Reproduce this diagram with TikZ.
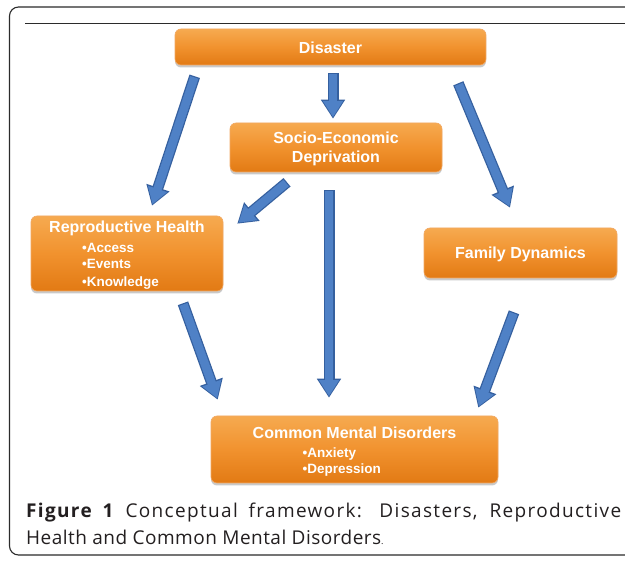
\documentclass[tikz,border=0pt]{standalone}
\usepackage{fontspec}
\setmainfont{Open Sans}
\newfontfamily\capLS[LetterSpace=7]{Open Sans}
\newfontfamily\capLSb[LetterSpace=2.5]{Open Sans}
\newfontfamily\boxfont{Liberation Sans}
\usetikzlibrary{arrows.meta,calc,shadows}
\definecolor{frameC}{HTML}{2B2B2B}
\definecolor{orTop}{HTML}{F6AA50}
\definecolor{orMid}{HTML}{F1922E}
\definecolor{orBot}{HTML}{E27A14}
\definecolor{orEdge}{HTML}{F2A862}
\definecolor{arOut}{HTML}{35609F}
\definecolor{arIn}{HTML}{4F81C6}
\definecolor{capC}{HTML}{231F20}
\tikzset{
  obox/.style={rectangle, rounded corners=6pt, top color=orTop, bottom color=orBot,
    middle color=orMid, draw=orEdge, line width=0.6pt,
    drop shadow={opacity=0.35, shadow xshift=0pt, shadow yshift=-2.5pt, fill=black!60},
    text=white, font=\boxfont\bfseries\fontsize{16}{18}\selectfont, inner sep=0pt, align=left},
  barrow/.style={line width=11pt, draw=arOut, -{Triangle[width=23pt,length=19pt]}},
  barrowin/.style={line width=8.5pt, draw=arIn, -{Triangle[width=19pt,length=16pt]}, shorten >=1.6pt, shorten <=1.2pt},
}
\newcommand{\blockarrow}[2]{%
  \draw[barrow] #1 -- #2;
  \draw[barrowin] #1 -- #2;}
\newcommand{\bul}[1]{{\fontsize{13.5}{17}\selectfont\textbullet#1}}
\begin{document}
\begin{tikzpicture}[x=1pt,y=-1pt]
\useasboundingbox (0,0) rectangle (625,564);
\fill[white] (0,0) rectangle (625,564);
% frame
\draw[frameC, line width=1.1pt, rounded corners=9pt] (640,7) -- (9.5,7) -- (9.5,555) -- (640,555);
\draw[frameC, line width=0.9pt] (25,23) -- (625,23);
% boxes
\node[obox, minimum width=311pt, minimum height=36pt] (dis) at (330.5,47) {\rule{0pt}{13pt}Disaster};
\node[obox, minimum width=212pt, minimum height=49pt, align=center] (soc) at (336,147.5) {\rule{0pt}{15pt}Socio-Economic\\[1pt]Deprivation};
\node[obox, minimum width=192pt, minimum height=75pt] (rh) at (127,253.5)
  {\rule{0pt}{15pt}Reproductive Health\\[2pt]\hspace*{33pt}\bul{Access}\\[-1.5pt]\hspace*{33pt}\bul{Events}\\[0pt]\hspace*{33pt}\bul{Knowledge}};
\node[obox, minimum width=193pt, minimum height=50pt] (fd) at (520.5,253) {\rule{0pt}{14pt}Family Dynamics};
\node[obox, minimum width=287pt, minimum height=67pt] (cmd) at (354.5,449.5)
  {\rule{0pt}{16pt}Common Mental Disorders\\[1pt]\hspace*{50pt}\bul{Anxiety}\\[-1.5pt]\hspace*{50pt}\bul{Depression}};
% arrows
\blockarrow{($(dis.south)+(2.5,8)$)}{($(soc.north)+(-3,-4)$)}
\blockarrow{($(dis.south west)+(20,11)$)}{($(rh.north)+(25,-10)$)}
\blockarrow{($(dis.south east)+(-28,18)$)}{($(fd.north)+(-10.5,-20)$)}
\blockarrow{($(soc.south)+(-49,10)$)}{($(rh.north east)+(14,8)$)}
\blockarrow{($(soc.south)+(-7,18)$)}{($(cmd.north)+(-25.5,-18)$)}
\blockarrow{($(rh.south)+(56,12)$)}{($(cmd.north west)+(7,-16)$)}
\blockarrow{($(fd.south)+(-6.5,34)$)}{($(cmd.north east)+(-20,-8)$)}
% caption
\node[anchor=north west, inner sep=0pt, text=capC, font=\fontsize{19}{27}\selectfont, align=left] (cap) at (26,503)
  {\makebox[595pt][s]{\capLS\textbf{Figure 1} Conceptual framework: Disasters, Reproductive}\\
   {\capLSb Health and Common Mental Disorders{\small .}}};
\end{tikzpicture}
\end{document}
